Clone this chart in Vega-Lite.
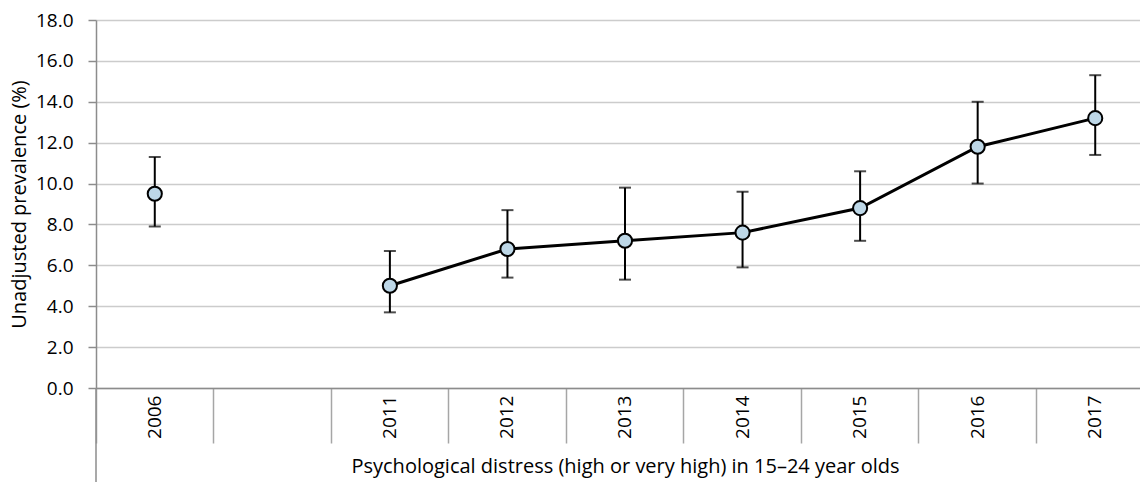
{
  "$schema": "https://vega.github.io/schema/vega-lite/v6.json",
  "autosize": {"type": "none"},
  "padding": {"left": 96, "top": 20, "right": 0, "bottom": 94},
  "width": 1058,
  "height": 368,
  "background": "white",
  "config": {
    "font": "Open Sans",
    "view": {"stroke": null},
    "axis": {"labelFont": "Open Sans", "titleFont": "Open Sans", "labelFontSize": 19, "titleFontSize": 20, "labelColor": "#000000", "titleColor": "#000000", "titleFontWeight": "normal"}
  },
  "data": {
    "values": [
      {"year": "2006", "value": 9.5, "lo": 7.9, "hi": 11.3},
      {"year": "2011", "value": 5.0, "lo": 3.7, "hi": 6.7},
      {"year": "2012", "value": 6.8, "lo": 5.4, "hi": 8.7},
      {"year": "2013", "value": 7.2, "lo": 5.3, "hi": 9.8},
      {"year": "2014", "value": 7.6, "lo": 5.9, "hi": 9.6},
      {"year": "2015", "value": 8.8, "lo": 7.2, "hi": 10.6},
      {"year": "2016", "value": 11.8, "lo": 10.0, "hi": 14.0},
      {"year": "2017", "value": 13.2, "lo": 11.4, "hi": 15.3}
    ]
  },
  "layer": [
    {
      "mark": {"type": "errorbar", "ticks": {"size": 12, "thickness": 2, "color": "#000000"}, "rule": {"strokeWidth": 2, "color": "#000000"}},
      "encoding": {
        "x": {
          "field": "year",
          "type": "nominal",
          "scale": {"domain": ["2006", " ", "2011", "2012", "2013", "2014", "2015", "2016", "2017"], "paddingInner": 0, "paddingOuter": 0},
          "axis": {
            "title": "Psychological distress (high or very high) in 15–24 year olds",
            "titlePadding": 13,
            "labelAngle": -90,
            "labelPadding": -48,
            "bandPosition": 0,
            "tickSize": 55,
            "tickColor": "#a6a6a6",
            "tickWidth": 1.5,
            "domainColor": "#8c8c8c",
            "domainWidth": 1.5,
            "grid": false
          }
        },
        "y": {
          "field": "lo",
          "type": "quantitative",
          "scale": {"domain": [0, 18]},
          "axis": {
            "title": "Unadjusted prevalence (%)",
            "titlePadding": 6,
            "values": [0, 2, 4, 6, 8, 10, 12, 14, 16, 18],
            "format": ".1f",
            "labelPadding": 15,
            "tickSize": 8,
            "tickColor": "#8c8c8c",
            "tickWidth": 1.5,
            "domainColor": "#8c8c8c",
            "domainWidth": 1.5,
            "gridColor": "#cccccc",
            "gridWidth": 1.5
          }
        },
        "y2": {"field": "hi"}
      }
    },
    {
      "transform": [{"filter": "datum.year == '2006'"}],
      "mark": {"type": "rule", "color": "#8c8c8c", "strokeWidth": 1.5, "clip": false},
      "encoding": {
        "x": {"field": "year", "type": "nominal", "bandPosition": 0},
        "y": {"datum": 0},
        "y2": {"datum": -4.7}
      }
    },
    {
      "transform": [{"filter": "datum.year != '2006'"}],
      "mark": {"type": "line", "color": "#000000", "strokeWidth": 3},
      "encoding": {
        "x": {"field": "year", "type": "nominal"},
        "y": {"field": "value", "type": "quantitative"}
      }
    },
    {
      "mark": {"type": "point", "filled": true, "fill": "#bdd7e7", "stroke": "#000000", "strokeWidth": 2, "size": 200, "opacity": 1},
      "encoding": {
        "x": {"field": "year", "type": "nominal"},
        "y": {"field": "value", "type": "quantitative"}
      }
    }
  ]
}
